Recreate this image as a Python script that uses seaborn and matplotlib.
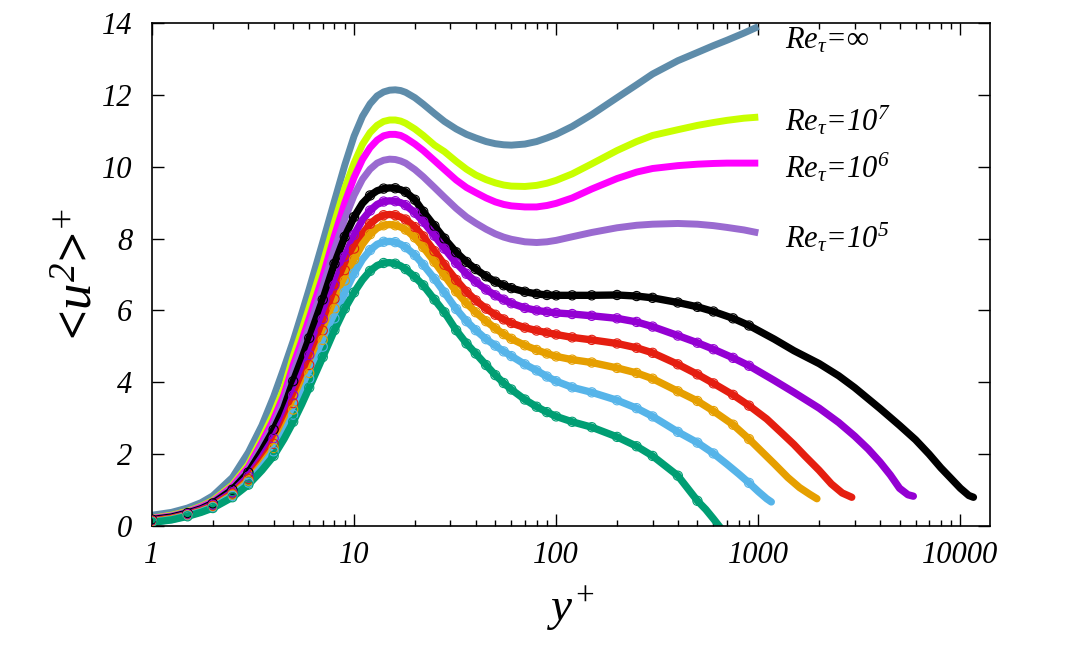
import numpy as np
import pandas as pd
import seaborn as sns
import matplotlib.pyplot as plt
from matplotlib.ticker import LogLocator, NullFormatter

sns.set_style('ticks')
plt.rcParams['font.family'] = ['Liberation Serif', 'DejaVu Serif']
plt.rcParams['font.style'] = 'italic'
plt.rcParams['mathtext.fontset'] = 'custom'
plt.rcParams['mathtext.rm'] = 'Liberation Serif'
plt.rcParams['mathtext.it'] = 'Liberation Serif:italic'
plt.rcParams['mathtext.bf'] = 'Liberation Serif:bold'
for k in ['text.color', 'axes.labelcolor', 'xtick.color', 'ytick.color', 'axes.edgecolor']:
    plt.rcParams[k] = 'black'

# shared y+ grid (wall region) and model grid
yp_wall = [1, 1.25, 1.5, 1.75, 2, 2.5, 3, 3.5, 4, 4.5, 5, 5.5, 6, 7, 8, 9, 10, 11, 12, 13,
           14, 15, 16, 17, 18, 20, 22, 25, 28, 32, 36, 40, 45, 50, 55, 60, 70, 80, 90, 100,
           120, 150, 200, 250, 300, 400]
yp_model = yp_wall + [500, 600, 700, 850, 1000]

# model curves, Re_tau = inf, 1e7, 1e6, 1e5
u2_inf = [0.30, 0.38, 0.50, 0.65, 0.84, 1.35, 2.05, 2.8, 3.6, 4.4, 5.15, 5.9, 6.6, 7.9,
          9.05, 10.05, 10.85, 11.4, 11.75, 11.97, 12.08, 12.13, 12.14, 12.12, 12.07, 11.92,
          11.74, 11.48, 11.26, 11.05, 10.9, 10.8, 10.7, 10.64, 10.61, 10.6, 10.63, 10.7, 10.8, 10.9,
          11.12, 11.45, 11.92, 12.28, 12.58, 12.95, 13.18, 13.37, 13.52, 13.72, 13.9]
u2_1e7 = [0.22, 0.30, 0.41, 0.55, 0.71, 1.14, 1.71, 2.44, 3.13, 3.84, 4.72, 5.42, 6.08, 7.29,
          8.45, 9.4, 10.1, 10.62, 10.95, 11.15, 11.26, 11.3, 11.3, 11.27, 11.21, 11.05,
          10.87, 10.6, 10.42, 10.15, 9.93, 9.77, 9.64, 9.55, 9.49, 9.46, 9.45, 9.48, 9.54, 9.62,
          9.8, 10.08, 10.45, 10.7, 10.87, 11.03, 11.15, 11.23, 11.29, 11.35, 11.38]
u2_1e6 = [0.21, 0.28, 0.39, 0.53, 0.68, 1.10, 1.64, 2.33, 2.97, 3.65, 4.48, 5.14, 5.78, 6.94,
          8.08, 9.0, 9.7, 10.2, 10.53, 10.74, 10.86, 10.9, 10.9, 10.87, 10.8, 10.63,
          10.45, 10.17, 9.92, 9.63, 9.42, 9.28, 9.13, 9.02, 8.95, 8.91, 8.88, 8.88, 8.92, 8.98,
          9.13, 9.38, 9.67, 9.85, 9.95, 10.03, 10.07, 10.09, 10.1, 10.1, 10.1]
u2_1e5 = [0.19, 0.27, 0.38, 0.50, 0.66, 1.05, 1.56, 2.22, 2.83, 3.48, 4.27, 4.92, 5.53, 6.65,
          7.7, 8.55, 9.2, 9.65, 9.93, 10.1, 10.18, 10.21, 10.2, 10.16, 10.1, 9.92,
          9.72, 9.42, 9.15, 8.84, 8.6, 8.43, 8.26, 8.13, 8.04, 7.98, 7.91, 7.89, 7.91, 7.95,
          8.05, 8.17, 8.3, 8.37, 8.4, 8.42, 8.4, 8.36, 8.31, 8.24, 8.16]
model_labels = [r'$Re_{\tau}$=$\infty$', r'$Re_{\tau}$=10$^{\mathit{7}}$',
                r'$Re_{\tau}$=10$^{\mathit{6}}$', r'$Re_{\tau}$=10$^{\mathit{5}}$']
label_x = [1350, 1350, 1350, 1350]
label_y = [13.3, 11.02, 9.71, 7.74]

# DNS curves
yp_k = yp_wall + [500, 600, 750, 900, 1200, 1500, 2000, 2500, 3000, 4000, 5000, 6000, 7000,
                  8000, 9000, 10000, 11000, 11600]
u2_k = [0.18, 0.25, 0.36, 0.48, 0.63, 1.01, 1.49, 2.10, 2.68, 3.29, 4.03, 4.64, 5.23, 6.30,
        7.3, 8.05, 8.6, 8.98, 9.2, 9.33, 9.39, 9.41, 9.4, 9.36, 9.3, 9.08,
        8.75, 8.35, 8.0, 7.62, 7.35, 7.15, 6.95, 6.8, 6.7, 6.62, 6.52, 6.46, 6.43, 6.42,
        6.42, 6.42, 6.43, 6.4, 6.35, 6.22,
        6.1, 5.97, 5.78, 5.58, 5.2, 4.88, 4.52, 4.18, 3.85, 3.27, 2.8, 2.4, 2.0,
        1.62, 1.32, 1.05, 0.85, 0.8]
yp_p = yp_wall + [500, 600, 750, 900, 1200, 1500, 2000, 2500, 3000, 3500, 4000, 4500, 5000,
                  5500, 5850]
u2_p = [0.15, 0.22, 0.33, 0.45, 0.59, 0.94, 1.38, 1.92, 2.44, 3.00, 3.64, 4.21, 4.76, 5.76,
        6.7, 7.5, 8.1, 8.52, 8.78, 8.95, 9.03, 9.05, 9.04, 9.0, 8.93, 8.72,
        8.47, 8.08, 7.72, 7.32, 7.02, 6.8, 6.58, 6.42, 6.3, 6.2, 6.07, 6.0, 5.96, 5.93,
        5.9, 5.85, 5.78, 5.68, 5.55, 5.3,
        5.1, 4.92, 4.68, 4.46, 4.05, 3.72, 3.28, 2.88, 2.5, 2.14, 1.78, 1.42, 1.05,
        0.87, 0.83]
yp_r = yp_wall + [500, 600, 750, 900, 1100, 1300, 1500, 1700, 2000, 2300, 2600, 2900]
u2_r = [0.14, 0.21, 0.31, 0.43, 0.56, 0.90, 1.31, 1.81, 2.29, 2.83, 3.42, 3.96, 4.48, 5.44,
        6.32, 7.12, 7.72, 8.13, 8.41, 8.57, 8.65, 8.67, 8.65, 8.6, 8.53, 8.32,
        8.06, 7.65, 7.27, 6.85, 6.52, 6.28, 6.05, 5.88, 5.75, 5.65, 5.52, 5.44, 5.38, 5.33,
        5.25, 5.18, 5.08, 4.96, 4.82, 4.5,
        4.22, 3.97, 3.65, 3.35, 2.98, 2.6, 2.27, 1.95, 1.55, 1.17, 0.92, 0.8]
yp_o = yp_wall + [500, 600, 750, 900, 1050, 1200, 1400, 1600, 1800, 1950]
u2_o = [0.12, 0.20, 0.30, 0.41, 0.54, 0.87, 1.26, 1.72, 2.17, 2.69, 3.24, 3.76, 4.26, 5.18,
        6.05, 6.83, 7.42, 7.84, 8.12, 8.29, 8.37, 8.39, 8.37, 8.32, 8.25, 8.03,
        7.76, 7.35, 6.97, 6.53, 6.2, 5.95, 5.7, 5.5, 5.34, 5.21, 5.03, 4.9, 4.8, 4.72,
        4.63, 4.55, 4.4, 4.26, 4.1, 3.75,
        3.48, 3.2, 2.82, 2.42, 2.05, 1.73, 1.35, 1.07, 0.88, 0.76]
yp_b = yp_wall + [500, 600, 700, 800, 900, 1000, 1100, 1160]
u2_b = [0.11, 0.18, 0.29, 0.40, 0.52, 0.84, 1.21, 1.65, 2.08, 2.58, 3.10, 3.61, 4.10, 4.99,
        5.78, 6.5, 7.03, 7.42, 7.68, 7.84, 7.91, 7.92, 7.9, 7.84, 7.76, 7.54,
        7.27, 6.88, 6.5, 6.04, 5.7, 5.45, 5.2, 5.02, 4.86, 4.73, 4.5, 4.33, 4.16, 4.03,
        3.86, 3.72, 3.5, 3.28, 3.05, 2.62,
        2.32, 2.02, 1.72, 1.45, 1.2, 0.96, 0.76, 0.67]
yp_g = yp_wall + [500, 550, 600, 650]
u2_g = [0.10, 0.17, 0.27, 0.38, 0.50, 0.80, 1.15, 1.55, 1.95, 2.42, 2.9, 3.38, 3.85, 4.7,
        5.45, 6.05, 6.5, 6.85, 7.1, 7.25, 7.32, 7.33, 7.3, 7.24, 7.15, 6.93,
        6.7, 6.3, 5.95, 5.45, 5.08, 4.8, 4.48, 4.2, 3.98, 3.8, 3.52, 3.32, 3.17, 3.05,
        2.9, 2.75, 2.48, 2.22, 1.95, 1.4,
        0.7, 0.46, 0.2, -0.05]
dns_end = [1000, 1000, 1000, 1000, 1000, 500]
# y+ where DNS circles are shown
yp_marks = [1, 1.5, 2, 2.5, 3, 4, 5, 6, 7, 8, 9, 10, 12, 14, 16, 18, 20, 22, 25, 28, 32,
            36, 40, 45, 50, 55, 60, 70, 80, 90, 100, 120, 150, 200, 250, 300, 400, 500,
            600, 750, 900]

model_colors = ['#5E8CAA', '#C8FF00', '#FF00FF', '#9A6AD0']
dns_colors = ['#000000', '#9400D3', '#E51E10', '#E69F00', '#56B4E9', '#009E73']

fig = plt.figure(figsize=(10.9, 6.51), dpi=100)
ax = fig.add_axes([0.1394, 0.192, 0.7688, 0.7727])

for vals, c in zip([u2_inf, u2_1e7, u2_1e6, u2_1e5], model_colors):
    sns.lineplot(x=yp_model, y=vals, ax=ax, color=c, lw=5, sort=False,
                 estimator=None, solid_capstyle='butt')

dns = [(yp_k, u2_k), (yp_p, u2_p), (yp_r, u2_r), (yp_o, u2_o), (yp_b, u2_b), (yp_g, u2_g)]
for (yp, vals), c, yend in zip(dns, dns_colors, dns_end):
    df = pd.DataFrame({'yp': yp, 'u2': vals})
    sns.lineplot(data=df, x='yp', y='u2', ax=ax, color=c, lw=5.3, sort=False,
                 estimator=None, solid_capstyle='round')
    pts = df[df['yp'].isin(yp_marks) & (df['yp'] <= yend)]
    sns.scatterplot(data=pts, x='yp', y='u2', ax=ax, marker='o', s=44,
                    facecolor='none', edgecolor=c, linewidth=0.8, zorder=5)

for lab, lx, ly in zip(model_labels, label_x, label_y):
    ax.text(lx, ly, lab, fontsize=22, style='italic', ha='left', va='baseline')

ax.set_xscale('log')
ax.set_xlim(1, 14000)
ax.set_ylim(0, 14)
ax.set_xticks([1, 10, 100, 1000, 10000])
ax.set_xticklabels(['1', '10', '100', '1000', '10000'])
ax.xaxis.set_minor_locator(LogLocator(base=10, subs=np.arange(2, 10)))
ax.xaxis.set_minor_formatter(NullFormatter())
ax.set_yticks(np.arange(0, 15, 2))
ax.tick_params(which='both', direction='in', top=True, right=True, width=1.0)
ax.tick_params(which='major', length=8.5, labelsize=22)
ax.tick_params(axis='x', which='major', pad=11)
ax.tick_params(axis='y', which='major', pad=14)
ax.tick_params(which='minor', length=4.5)
for s in ax.spines.values():
    s.set_linewidth(1.2)

ax.set_xlabel(r'$y^{+}$', fontsize=34)
ax.set_ylabel(r'<$u^{2}$>$^{+}$', fontsize=38, fontweight='bold', fontstyle='normal')
ax.xaxis.set_label_coords(0.5, -0.117)
ax.yaxis.set_label_coords(-0.058, 0.5)

fig.savefig('out.png', dpi=100)
